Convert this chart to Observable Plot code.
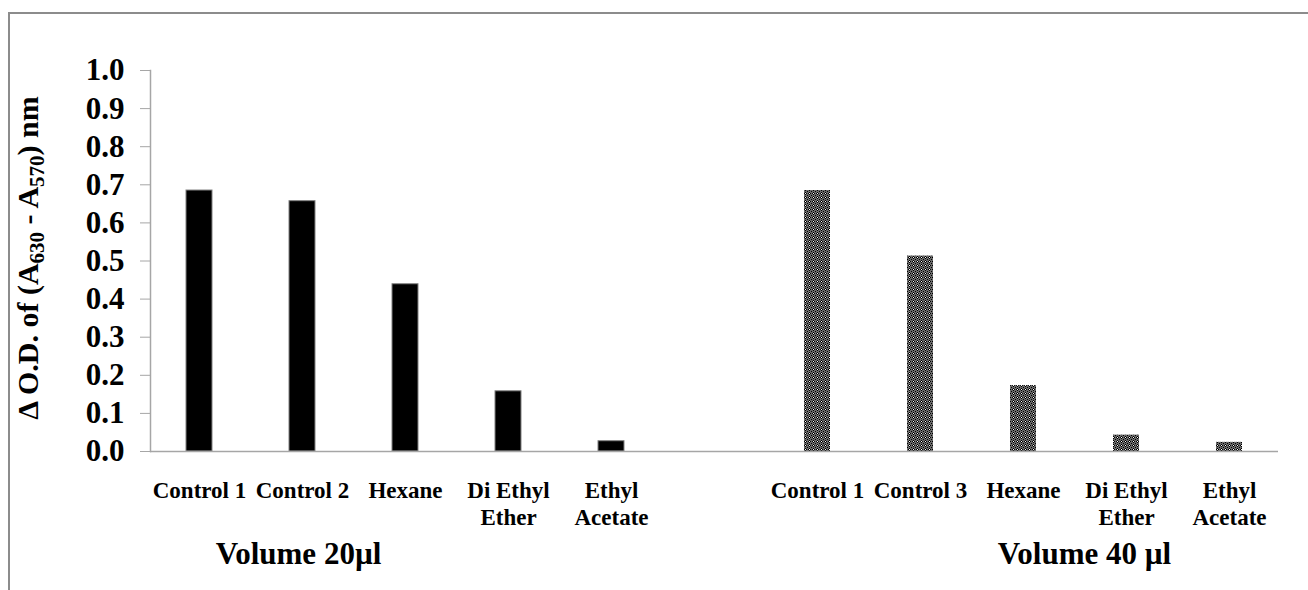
<!DOCTYPE html>
<html>
<head>
<meta charset="utf-8">
<script src="https://cdn.jsdelivr.net/npm/d3@7"></script>
<script src="https://cdn.jsdelivr.net/npm/@observablehq/plot@0.6"></script>
<style>
  html, body { margin: 0; padding: 0; background: #fff; }
  #wrap { position: relative; width: 1308px; height: 590px; overflow: hidden; }
  #border { position: absolute; left: 8px; top: 12px; width: 1400px; height: 700px;
            border-left: 2px solid #8c8c8c; border-top: 2px solid #8c8c8c; }
  #chart { position: absolute; left: 0; top: 0; }
</style>
</head>
<body>
<div id="wrap"><div id="border"></div><div id="chart"></div></div>
<script>
// ---- data ----
const labels20 = ["Control 1", "Control 2", "Hexane", "Di Ethyl\nEther", "Ethyl\nAcetate"];
const values20 = [0.685, 0.657, 0.439, 0.158, 0.027];
const labels40 = ["Control 1", "Control 3", "Hexane", "Di Ethyl\nEther", "Ethyl\nAcetate"];
const values40 = [0.685, 0.513, 0.173, 0.043, 0.024];
const groupTitles = ["Volume 20µl", "Volume 40 µl"];
const yTicks = [0, 0.1, 0.2, 0.3, 0.4, 0.5, 0.6, 0.7, 0.8, 0.9, 1.0];

const data20 = labels20.map((l, i) => ({key: "20|" + l, label: l, value: values20[i]}));
const data40 = labels40.map((l, i) => ({key: "40|" + l, label: l, value: values40[i]}));
const domain = [...data20.map(d => d.key), "gap", ...data40.map(d => d.key)];

const serif = "'Liberation Serif', 'Times New Roman', serif";
const axisGray = "#a6a6a6";

const svg = Plot.plot({
  width: 1308,
  height: 590,
  marginLeft: 150,
  marginRight: 30,
  marginTop: 70,
  marginBottom: 139,
  style: {fontFamily: serif, background: "transparent", color: "black"},
  x: {type: "band", domain, paddingInner: 0.75, paddingOuter: 0.3, axis: null},
  y: {domain: [0, 1], axis: null},
  marks: [
    Plot.barY(data20, {x: "key", y: "value", fill: "black", stroke: "#808080", strokeWidth: 1}),
    Plot.barY(data40, {x: "key", y: "value", fill: "url(#dots)"}),
    Plot.ruleY([0], {stroke: axisGray, strokeWidth: 1.5}),
    Plot.frame({anchor: "left", stroke: axisGray, strokeWidth: 1.5}),
    Plot.axisY({ticks: yTicks, tickFormat: d3.format(".1f"), tickSize: 10, tickPadding: 16,
                fontSize: 31, fontWeight: "bold", stroke: axisGray, fill: "black", label: null}),
    Plot.text(data20, {x: "key", text: "label", frameAnchor: "bottom", lineAnchor: "top", dy: 28,
                       fontSize: 23, fontWeight: "bold", lineHeight: 1.15}),
    Plot.text(data40, {x: "key", text: "label", frameAnchor: "bottom", lineAnchor: "top", dy: 28,
                       fontSize: 23, fontWeight: "bold", lineHeight: 1.15}),
    Plot.text([groupTitles[0]], {x: () => data20[1].key, text: d => d, frameAnchor: "bottom", lineAnchor: "top",
                       dy: 90, dx: -4, fontSize: 31, fontWeight: "bold"}),
    Plot.text([groupTitles[1]], {x: () => data40[3].key, text: d => d, frameAnchor: "bottom", lineAnchor: "top",
                       dy: 90, dx: -42, fontSize: 31, fontWeight: "bold"})
  ]
});

// pattern for the 40 µl bars
const s = d3.select(svg);
const defs = s.insert("defs", ":first-child");
const pat = defs.append("pattern").attr("id", "dots").attr("patternUnits", "userSpaceOnUse")
  .attr("width", 4).attr("height", 4);
pat.append("rect").attr("width", 4).attr("height", 4).attr("fill", "#6a6a6a");
[[1,0],[0,1],[2,1],[1,2],[3,3]].forEach(([x, y]) =>
  pat.append("rect").attr("x", x).attr("y", y).attr("width", 1).attr("height", 1).attr("fill", "#000"));
pat.append("rect").attr("x", 1).attr("y", 1).attr("width", 1).attr("height", 1).attr("fill", "#fff");

// y-axis title with subscripts
const t = s.append("text")
  .attr("transform", "translate(38,258) rotate(-90)")
  .attr("text-anchor", "middle")
  .attr("font-family", serif)
  .attr("font-weight", "bold")
  .attr("font-size", 30)
  .attr("fill", "black");
t.append("tspan").text("Δ O.D. of (A");
t.append("tspan").attr("font-size", 21).attr("dy", 6).text("630");
t.append("tspan").attr("dy", -6).text(" - A");
t.append("tspan").attr("font-size", 21).attr("dy", 6).text("570");
t.append("tspan").attr("dy", -6).text(") nm");

document.getElementById("chart").appendChild(svg);
</script>
</body>
</html>
